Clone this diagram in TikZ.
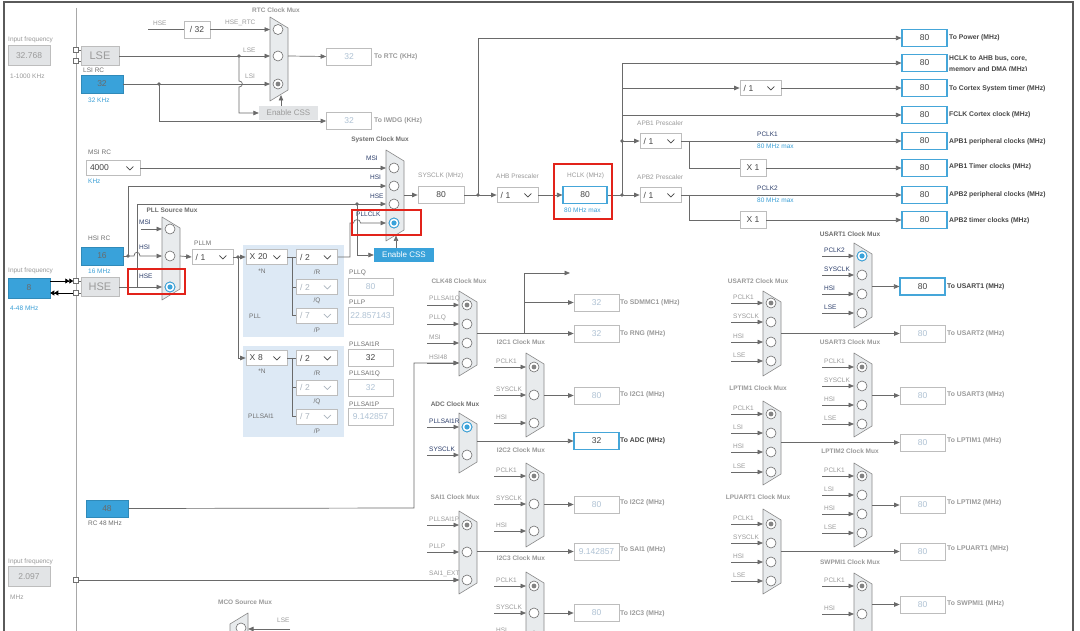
\documentclass[tikz,border=0pt]{standalone}
\usepackage{fontspec}
\setmainfont{Liberation Sans}
\usetikzlibrary{arrows.meta}
\definecolor{lnc}{HTML}{6A6A6A}
\definecolor{framec}{HTML}{5A5A5A}
\definecolor{divc}{HTML}{A8A8A8}
\definecolor{bblue}{HTML}{39A2DA}
\definecolor{obord}{HTML}{45A6D9}
\definecolor{gbord}{HTML}{BDBDBD}
\definecolor{gtext}{HTML}{AFC2D4}
\definecolor{lgray}{HTML}{9A9A9A}
\definecolor{mgray}{HTML}{6E6E6E}
\definecolor{dgray}{HTML}{454545}
\definecolor{dblue}{HTML}{2C3E6B}
\definecolor{muxfill}{HTML}{E8EBED}
\definecolor{muxbord}{HTML}{8A8A8A}
\definecolor{pllbg}{HTML}{DDE9F5}
\definecolor{redh}{HTML}{E2231A}
\definecolor{lblue}{HTML}{3A9FD6}
\definecolor{grayfill}{HTML}{E2E4E6}
\definecolor{ddtxt}{HTML}{AAB4BE}
\tikzset{
 ln/.style={draw=lnc, line width=0.7pt},
 arr/.style={draw=lnc, line width=0.7pt, -{Triangle[length=5.5pt,width=4.5pt]}},
 dbl/.style={draw=black, line width=0.7pt, -{Triangle[length=4pt,width=5pt]Triangle[length=4pt,width=5pt]}},
 lbl/.style={font=\fontsize{6.5}{7}\selectfont, text=lgray, inner sep=0pt, anchor=west},
 lblm/.style={lbl, text=mgray},
 lbld/.style={lbl, text=dblue},
 lblb/.style={lbl, text=lblue},
 ttl/.style={font=\fontsize{6.5}{7}\selectfont\bfseries, text=lgray, inner sep=0pt},
 ttld/.style={ttl, text=mgray},
 olbl/.style={font=\fontsize{6.8}{11}\selectfont\bfseries, text=dgray, inner sep=0pt, anchor=west},
 olblg/.style={olbl, text=lgray},
 vbox/.style={rectangle, fill=white, minimum width=45pt, minimum height=17pt, inner sep=0pt, font=\fontsize{8.5}{9}\selectfont},
 obox/.style={vbox, draw=obord, line width=1.1pt, text=dgray},
 gbox/.style={vbox, draw=gbord, line width=0.7pt, text=gtext},
 kbox/.style={vbox, draw=gbord, line width=0.7pt, text=dgray},
 gfbox/.style={rectangle, fill=grayfill, draw=gbord, line width=0.6pt, minimum width=42pt, minimum height=20pt, inner sep=0pt, text=lgray, font=\fontsize{8.5}{9}\selectfont},
 bluebox/.style={rectangle, fill=bblue, draw=bblue!85!black, line width=0.5pt, minimum width=42pt, minimum height=18pt, inner sep=0pt, text=dgray!80, font=\fontsize{8.5}{9}\selectfont},
 ddbox/.style={rectangle, draw=gbord, fill=white, line width=0.7pt, minimum width=41pt, minimum height=15pt, inner sep=0pt, text width=34pt, align=left, font=\fontsize{8.5}{9}\selectfont},
 muxst/.style={fill=muxfill, draw=muxbord, line width=0.6pt, line join=round},
 rb/.style={circle, draw=mgray, fill=white, line width=0.6pt, minimum size=10pt, inner sep=0pt},
 sq/.style={rectangle, draw=mgray, fill=white, line width=0.5pt, minimum size=5pt, inner sep=0pt},
 redbox/.style={draw=redh, line width=1.6pt},
 cssbox/.style={rectangle, minimum width=60pt, minimum height=14pt, inner sep=0pt, font=\fontsize{8}{9}\selectfont},
}
\newcommand\jdot[1]{\fill[lnc] (#1) circle[radius=1.8pt];}
\newcommand\selg[1]{\fill[lgray!85!black] (#1) circle[radius=2.4pt];}
\newcommand\selb[1]{\draw[bblue, line width=0.9pt, fill=white] (#1) circle[radius=5pt]; \fill[bblue] (#1) circle[radius=2.6pt];}
\newcommand\ddn[6][]{%
 \node[ddbox,#1,text=#6] (#2) at (#3,#4) {#5};
 \draw[#6, line width=0.6pt] ([xshift=-14pt,yshift=1.5pt]#2.east) -- ([xshift=-10.5pt,yshift=-2pt]#2.east) -- ([xshift=-7pt,yshift=1.5pt]#2.east);}
\newcommand\muxbody[5]{%
 \draw[muxst] (#2,#3) -- ({#2+18},{#3+11}) -- ({#2+18},{#4-11}) -- (#2,#4) -- cycle;
 \coordinate (#1) at ({#2+18},{(#3+#4)/2});
 \foreach \yy [count=\i] in {#5}{%
   \coordinate (#1-e\i) at (#2,\yy);
   \node[rb] (#1-c\i) at ({#2+8},\yy) {};
 }}
\newcommand\mux[6]{%
 \draw[muxst] (#2,#3) -- ({#2+18},{#3+11}) -- ({#2+18},{#4-11}) -- (#2,#4) -- cycle;
 \coordinate (#1) at ({#2+18},{(#3+#4)/2});
 \foreach \yy/\mlab [count=\i] in {#5}{%
   \coordinate (#1-s\i) at ({#2-32},\yy);
   \coordinate (#1-e\i) at (#2,\yy);
   \draw[arr] (#1-s\i) -- (#1-e\i);
   \node[#6, anchor=south west] (#1-l\i) at ({#2-30},{\yy-3.5}) {\mlab};
   \node[rb] (#1-c\i) at ({#2+8},\yy) {};
 }}
\begin{document}
\begin{tikzpicture}[x=1pt,y=-1pt]
\useasboundingbox (0,0) rectangle (1080,631);
\fill[white] (0,0) rectangle (1080,631);
\fill[pllbg] (243,245) rectangle (344,337);
\fill[pllbg] (243,346) rectangle (344,437);
\draw[draw=framec, line width=2pt] (4,650) -- (4,2) -- (1073,2) -- (1073,650);
\draw[draw=divc, line width=0.8pt] (76,8) -- (76,650);

% ---------- LSE / LSI / RTC
\node[lbl] (if1) at (8,40) {Input frequency};
\node[gfbox] (lsein) at (29,55.5) {32.768};
\node[lbl] (if1r) at (10,76) {1-1000 KHz};
\node[sq] (sqa) at (76,50) {};
\node[sq] (sqb) at (76,61) {};
\node[gfbox, minimum width=38pt, minimum height=19pt, font=\fontsize{11}{12}\selectfont] (lse) at (100,56) {LSE};
\draw[ln] (sqa.east) -- (sqa -| lse.west);
\draw[ln] (sqb.east) -- (sqb -| lse.west);
\node[lblm] (lsit) at (83,70) {LSI RC};
\node[bluebox] (lsi) at (102,84) {32};
\node[lblb] (lsif) at (88,100) {32 KHz};
\coordinate (hsetop) at (148,29.5);
\node[kbox, minimum width=26pt] (d32) at (197,29.5) {/ 32};
\draw[ln] (hsetop) -- (d32.west);
\node[lbl] (hset) at (153,23) {HSE};
\node[lbl] (hsertct) at (225,23) {HSE\_RTC};
\muxbody{rtc}{270}{17}{101}{29.5,56,84}
\selg{rtc-c3}
\node[ttl] (rtct) at (276,10) {RTC Clock Mux};
\draw[arr] (d32.east) -- (rtc-e1);
\draw[arr] (lse.east) -- (rtc-e2);
\draw[arr] (lsi.east) -- (rtc-e3);
\node[lbl] (rlse) at (243,50) {LSE};
\node[lbl] (rlsi) at (245,76) {LSI};
\coordinate (lsej) at (239,56); \jdot{lsej}
\coordinate (lsij) at (159,84); \jdot{lsij}
\node[cssbox, fill=grayfill, minimum width=59pt, text=lgray] (css1) at (288.5,113) {Enable CSS};
\draw[arr] (lsej) -- (239,81) .. controls (243.5,81) and (243.5,87) .. (239,87) -- (239,113) -- (css1.west);
\coordinate (rtcb) at (281,95);
\draw[arr] (css1.north -| rtcb) -- (rtcb);
\node[gbox] (iwdg) at (349,121) {32};
\draw[arr] (lsij) |- (iwdg.west);
\node[olblg] (iwdgt) at (374,121) {To IWDG (KHz)};
\node[gbox] (rtco) at (349,56.5) {32};
\draw[arr] (rtc |- rtc-e2) -- (rtco.west);
\node[olblg] (rtcot) at (374,57) {To RTC (KHz)};

% ---------- MSI
\node[lblm] (msit) at (88,152) {MSI RC};
\ddn[minimum width=54pt, text width=46pt]{msi}{113}{168}{4000}{dgray}
\node[lblb] (msif) at (88,181) {KHz};

% ---------- System clock mux
\muxbody{sys}{386}{150}{241}{168,186,204,223}
\selb{sys-c4}
\node[ttld] (syst) at (380,140) {System Clock Mux};
\node[lbld] (sysl1) at (366,158) {MSI};
\node[lbld] (sysl2) at (370,177) {HSI};
\node[lbld] (sysl3) at (370,196) {HSE};
\node[lbld] (sysl4) at (356,214) {PLLCLK};
\draw[arr] (msi.east) -- (sys-e1);

% ---------- PLL source mux
\muxbody{pll}{162}{217}{300}{229,256,287}
\selb{pll-c3}
\node[ttld] (pllt) at (172,210) {PLL Source Mux};
\node[lbld] (plll1) at (139,222) {MSI};
\node[lbld] (plll2) at (139,247) {HSI};
\node[lbld] (plll3) at (139,276) {HSE};
\coordinate (msistub) at (141,229);
\draw[arr] (msistub) -- (pll-e1);

% ---------- HSI
\node[lblm] (hsit) at (88,238) {HSI RC};
\node[bluebox] (hsi) at (102,256) {16};
\node[lblb] (hsif) at (88,271) {16 MHz};
\coordinate (hsij) at (128,256); \jdot{hsij}
\draw[ln] (hsi.east) -- (hsij);
\draw[arr] (hsij) |- (sys-e2);
\draw[arr] (hsij) -- (134,256) .. controls (134,251) and (140,251) .. (140,256) -- (pll-e2);

% ---------- HSE
\node[lbl] (if2) at (8,271) {Input frequency};
\node[bluebox, minimum height=20pt] (hsein) at (29,288) {8};
\node[lblb] (if2r) at (10,308) {4-48 MHz};
\node[sq] (sqc) at (76,281) {};
\node[sq] (sqd) at (76,293) {};
\draw[dbl] (sqc -| hsein.east) -- (sqc.west);
\draw[dbl] (sqd.west) -- (sqd -| hsein.east);
\node[gfbox, minimum width=38pt, minimum height=19pt, font=\fontsize{11}{12}\selectfont] (hse) at (100,287) {HSE};
\draw[ln] (sqc.east) -- (sqc -| hse.west);
\draw[ln] (sqd.east) -- (sqd -| hse.west);
\draw[arr] (hse.east) -- (pll-e3);
\coordinate (hsej) at (137,287);
\coordinate (sysj) at (357,204); \jdot{sysj}
\draw[arr] (hsej) |- (sys-e3);
\node[cssbox, fill=bblue, text=white] (css2) at (404,255) {Enable CSS};
\draw[arr] (sysj) |- (css2.west);
\coordinate (sysb) at (396,235.5);
\draw[arr] (css2.north -| sysb) -- (sysb);

% ---------- PLL
\node[lblm] (pllmt) at (194,243) {PLLM};
\ddn{pllm}{212.5}{257}{/ 1}{dgray}
\draw[arr] (pll |- pll-e2) -- (pllm.west);
\coordinate (pllmj) at (238,257); \jdot{pllmj}
\draw[ln] (pllm.east) -- (pllmj);
\ddn{x20}{266.5}{257}{X 20}{dgray}
\ddn{x8}{266.5}{358}{X 8}{dgray}
\draw[arr] (pllmj) -- (x20.west);
\draw[arr] (pllmj) |- (x8.west);
\ddn{pllr}{317}{257}{/ 2}{dgray}
\ddn{pllq}{317}{287}{/ 2}{ddtxt}
\ddn{pllp}{317}{315.5}{/ 7}{ddtxt}
\coordinate (nb1) at (292,257);
\draw[ln] (x20.east) -- (pllr.west);
\draw[ln] (nb1) |- (pllq.west);
\draw[ln] (nb1) |- (pllp.west);
\node[lblm, anchor=center] (n1) at (262,271) {*N};
\node[lblm, anchor=center] (r1) at (317,272) {/R};
\node[lblm, anchor=center] (q1) at (317,301) {/Q};
\node[lblm, anchor=center] (p1) at (317,330) {/P};
\node[lblm] (pllname) at (249,316) {PLL};
\node[lblm] (plllq) at (349,273) {PLLQ};
\node[gbox] (pllqo) at (370.5,287) {80};
\node[lblm] (plllp) at (349,302) {PLLP};
\node[gbox] (pllpo) at (370.5,315.5) {22.857143};
\draw[arr] (pllr.east) -- (350,257) -- (350,223) -- (353.5,223) .. controls (353.5,218.5) and (360.5,218.5) .. (360.5,223) -- (sys-e4);

\ddn{sr}{317}{358}{/ 2}{dgray}
\ddn{sqq}{317}{387.5}{/ 2}{ddtxt}
\ddn{spp}{317}{416.5}{/ 7}{ddtxt}
\coordinate (nb2) at (292,358);
\draw[ln] (x8.east) -- (sr.west);
\draw[ln] (nb2) |- (sqq.west);
\draw[ln] (nb2) |- (spp.west);
\node[lblm, anchor=center] (n2) at (262,371) {*N};
\node[lblm, anchor=center] (r2) at (317,373) {/R};
\node[lblm, anchor=center] (q2) at (317,402) {/Q};
\node[lblm, anchor=center] (p2) at (317,431) {/P};
\node[lblm] (sainame) at (248,416) {PLLSAI1};
\node[lblm] (psrt) at (349,344) {PLLSAI1R};
\node[kbox] (psr) at (370.5,358) {32};
\node[lblm] (psqt) at (349,374) {PLLSAI1Q};
\node[gbox] (psq) at (370.5,388) {32};
\node[lblm] (pspt) at (349,404) {PLLSAI1P};
\node[gbox] (psp) at (370.5,417) {9.142857};

% ---------- SYSCLK / AHB / APB
\node[lbl] (sysclkt) at (418,176) {SYSCLK (MHz)};
\node[kbox, minimum width=46pt] (sysclk) at (441,195) {80};
\draw[arr] (sys |- sysclk) -- (sysclk.west);
\coordinate (sj) at (478,195); \jdot{sj}
\draw[ln] (sysclk.east) -- (sj);
\node[lbl] (ahbt) at (496,176) {AHB Prescaler};
\ddn{ahb}{517.5}{195}{/ 1}{dgray}
\draw[arr] (sj) -- (ahb.west);
\node[lbl] (hclkt) at (567,176) {HCLK (MHz)};
\node[obox, minimum width=44pt] (hclk) at (585,195) {80};
\node[lblb] (hclkm) at (564,210) {80 MHz max};
\draw[arr] (ahb.east) -- (hclk.west);

\node[obox] (pw) at (924.5,38) {80};
\node[obox] (ahbo) at (924.5,63) {80};
\node[obox] (cto) at (924.5,88) {80};
\node[obox] (fclk) at (924.5,115) {80};
\node[obox] (ap1) at (924.5,141) {80};
\node[obox] (tm1) at (924.5,168) {80};
\node[obox] (ap2) at (924.5,195) {80};
\node[obox] (tm2) at (924.5,220) {80};
\node[olbl] (pwt) at (949,38) {To Power (MHz)};
\begin{scope}
\clip (946,50) rectangle (1070,71);
\node[olbl, align=left, anchor=north west] (ahbot) at (949,55) {HCLK to AHB bus, core,\\memory and DMA (MHz)};
\end{scope}
\node[olbl] (ctot) at (949,89) {To Cortex System timer (MHz)};
\node[olbl] (fclkt) at (949,115) {FCLK Cortex clock (MHz)};
\node[olbl] (ap1t) at (949,142) {APB1 peripheral clocks (MHz)};
\node[olbl] (tm1t) at (949,167) {APB1 Timer clocks (MHz)};
\node[olbl] (ap2t) at (949,195) {APB2 peripheral clocks (MHz)};
\node[olbl] (tm2t) at (949,221) {APB2 timer clocks (MHz)};

\draw[arr] (sj) |- (pw.west);
\coordinate (hj) at (622,195); \jdot{hj}
\coordinate (hj1) at (622,141); \jdot{hj1}
\coordinate (ht) at (622,63);
\coordinate (h2) at (622,88);
\coordinate (h3) at (622,115);
\draw[ln] (hclk.east) -- (hj);
\draw[arr] (hj) -- (ht) -- (ahbo.west);
\ddn{ctd}{760.5}{88}{/ 1}{dgray}
\draw[arr] (h2) -- (ctd.west);
\draw[arr] (ctd.east) -- (cto.west);
\draw[arr] (h3) -- (fclk.west);
\node[lbl] (apb1t) at (637,123) {APB1 Prescaler};
\node[lbl] (apb2t) at (637,177) {APB2 Prescaler};
\ddn{apb1}{660.5}{141}{/ 1}{dgray}
\ddn{apb2}{660.5}{195}{/ 1}{dgray}
\draw[arr] (hj1) -- (apb1.west);
\draw[arr] (hj) -- (apb2.west);
\node[kbox, minimum width=26pt] (x1a) at (753,168) {X 1};
\node[kbox, minimum width=26pt] (x1b) at (753,220) {X 1};
\coordinate (a1j) at (689,141);
\coordinate (a2j) at (689,195);
\draw[arr] (apb1.east) -- (ap1.west);
\draw[arr] (apb2.east) -- (ap2.west);
\draw[ln] (a1j) |- (x1a.west);
\draw[ln] (a2j) |- (x1b.west);
\draw[arr] (x1a.east) -- (tm1.west);
\draw[arr] (x1b.east) -- (tm2.west);
\node[lbld] (pc1) at (757,134) {PCLK1};
\node[lblb] (pc1m) at (757,146) {80 MHz max};
\node[lbld] (pc2) at (757,188) {PCLK2};
\node[lblb] (pc2m) at (757,200) {80 MHz max};

% ---------- red highlights
\draw[redbox] (128,269) rectangle (185,294);
\draw[redbox] (352,210) rectangle (421,235);
\draw[redbox] (554,164) rectangle (612,219);

% ---------- RC48, line 580
\node[bluebox, minimum height=17pt] (rc48) at (107,508.5) {48};
\node[lblm] (rc48t) at (88,523) {RC 48 MHz};
\node[lbl] (if3) at (8,562) {Input frequency};
\node[gfbox] (extin) at (29,576.5) {2.097};
\node[lbl] (if3r) at (10,597) {MHz};
\node[sq] (sqe) at (76,580) {};

% ---------- middle muxes
\mux{clk}{459}{291}{376}{305/PLLSAI1Q,324/PLLQ,343/MSI,363/HSI48}{lbl}
\selg{clk-c1}
\node[ttl] (clkt) at (459,281) {CLK48 Clock Mux};
\coordinate (rcc) at (414,508);
\draw[arr] (rc48.east) -- (rcc) -- (rcc |- clk-e4) -- (clk-e4);
\node[gbox] (sdm) at (596.5,302.5) {32};
\node[gbox] (rng) at (596.5,333.5) {32};
\node[olblg] (sdmt) at (620,303) {To SDMMC1 (MHz)};
\node[olblg] (rngt) at (620,334) {To RNG (MHz)};
\coordinate (cj) at (524,333.5);
\coordinate (c48e) at (570,273);
\draw[arr] (clk |- rng) -- (rng.west);
\draw[arr] (cj) |- (c48e);
\draw[arr] (cj |- sdm) -- (sdm.west);

\mux{ia}{526}{353}{437}{367/PCLK1,395/SYSCLK,423/HSI}{lbl}
\selg{ia-c1}
\node[ttl] (iat) at (521,342) {I2C1 Clock Mux};
\node[gbox] (iab) at (596.5,395.5) {80};
\node[olblg] (iabt) at (620,395) {To I2C1 (MHz)};
\draw[arr] (ia |- iab) -- (iab.west);

\mux{adc}{459}{413}{473}{427/PLLSAI1R,455/SYSCLK}{lbld}
\selb{adc-c1}
\node[ttld] (adct) at (455,404) {ADC Clock Mux};
\node[obox] (adcb) at (596.5,441) {32};
\node[olbl] (adcbt) at (620,441) {To ADC (MHz)};
\draw[arr] (adc |- adcb) -- (adcb.west);

\mux{ib}{526}{463}{547}{476/PCLK1,504/SYSCLK,531/HSI}{lbl}
\selg{ib-c1}
\node[ttl] (ibt) at (521,450) {I2C2 Clock Mux};
\node[gbox] (ibb) at (596.5,504.5) {80};
\node[olblg] (ibbt) at (620,503) {To I2C2 (MHz)};
\draw[arr] (ib |- ibb) -- (ibb.west);

\mux{sai}{459}{511}{594}{525/PLLSAI1P,552/PLLP,580/SAI1\_EXT}{lbl}
\selg{sai-c1}
\node[ttl] (sait) at (455,497) {SAI1 Clock Mux};
\draw[arr] (sqe.east) -- (sai-e3);
\node[gbox] (saib) at (596.5,551.5) {9.142857};
\node[olblg] (saibt) at (620,550) {To SAI1 (MHz)};
\draw[arr] (sai |- saib) -- (saib.west);

\mux{ic}{526}{572}{654}{586/PCLK1,613/SYSCLK,636/HSI}{lbl}
\selg{ic-c1}
\node[ttl] (ict) at (521,558) {I2C3 Clock Mux};
\node[gbox] (icb) at (596.5,613) {80};
\node[olblg] (icbt) at (620,614) {To I2C3 (MHz)};
\draw[arr] (ic |- icb) -- (icb.west);

% ---------- MCO
\node[ttl] (mcot) at (245,602) {MCO Source Mux};
\draw[muxst] (248,613) -- (230,624) -- (230,700) -- (248,711) -- cycle;
\node[rb] (mcoc) at (241,628) {};
\coordinate (mcoin) at (248,629);
\coordinate (mcos) at (290,629);
\draw[arr] (mcos) -- (mcoin);
\node[lbl] (mcol) at (277,620) {LSE};

% ---------- right muxes
\mux{ua}{854}{243}{328}{256/PCLK2,275/SYSCLK,294/HSI,313/LSE}{lbld}
\selb{ua-c1}
\node[ttld] (uat) at (850,234) {USART1 Clock Mux};
\node[obox] (uab) at (922.5,286.5) {80};
\node[olbl] (uabt) at (947,287) {To USART1 (MHz)};
\draw[arr] (ua |- uab) -- (uab.west);

\mux{ub}{763}{291}{376}{303/PCLK1,322/SYSCLK,342/HSI,361/LSE}{lbl}
\selg{ub-c1}
\node[ttl] (ubt) at (758,281) {USART2 Clock Mux};
\node[gbox] (ubb) at (922.5,333.5) {80};
\node[olblg] (ubbt) at (947,334) {To USART2 (MHz)};
\draw[arr] (ub |- ubb) -- (ubb.west);

\mux{uc}{854}{353}{437}{367/PCLK1,386/SYSCLK,405/HSI,424/LSE}{lbl}
\selg{uc-c1}
\node[ttl] (uct) at (850,342) {USART3 Clock Mux};
\node[gbox] (ucb) at (922.5,395.5) {80};
\node[olblg] (ucbt) at (947,395) {To USART3 (MHz)};
\draw[arr] (uc |- ucb) -- (ucb.west);

\mux{la}{763}{401}{485}{414/PCLK1,433/LSI,452/HSI,472/LSE}{lbl}
\selg{la-c1}
\node[ttl] (lat) at (758,388) {LPTIM1 Clock Mux};
\node[gbox] (lab) at (922.5,442.5) {80};
\node[olblg] (labt) at (947,441) {To LPTIM1 (MHz)};
\draw[arr] (la |- lab) -- (lab.west);

\mux{lb}{854}{463}{547}{476/PCLK1,495/LSI,514/HSI,533/LSE}{lbl}
\selg{lb-c1}
\node[ttl] (lbt) at (850,451) {LPTIM2 Clock Mux};
\node[gbox] (lbb) at (922.5,505) {80};
\node[olblg] (lbbt) at (947,503) {To LPTIM2 (MHz)};
\draw[arr] (lb |- lbb) -- (lbb.west);

\mux{lp}{763}{509}{594}{524/PCLK1,543/SYSCLK,562/HSI,581/LSE}{lbl}
\selg{lp-c1}
\node[ttl] (lpt) at (758,497) {LPUART1 Clock Mux};
\node[gbox] (lpb) at (922.5,551.5) {80};
\node[olblg] (lpbt) at (947,549) {To LPUART1 (MHz)};
\draw[arr] (lp |- lpb) -- (lpb.west);

\mux{sw}{854}{573}{657}{586/PCLK1,614/HSI}{lbl}
\selg{sw-c1}
\node[ttl] (swt) at (850,562) {SWPMI1 Clock Mux};
\node[gbox] (swb) at (922.5,604.5) {80};
\node[olblg] (swbt) at (947,604) {To SWPMI1 (MHz)};
\draw[arr] (sw |- swb) -- (swb.west);
\end{tikzpicture}
\end{document}
